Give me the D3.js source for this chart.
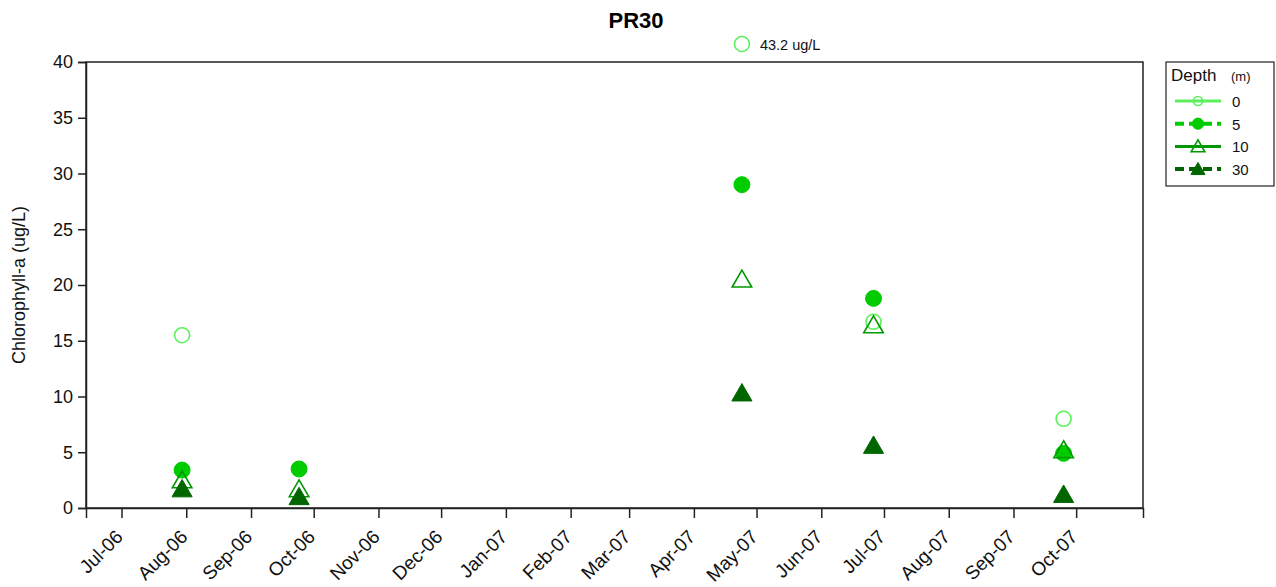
<!DOCTYPE html>
<html>
<head>
<meta charset="utf-8">
<script src="https://cdn.jsdelivr.net/npm/d3@7"></script>
<style>
  body { margin: 0; background: #fff; }
  svg { display: block; font-family: "Liberation Sans", Arial, sans-serif; }
</style>
</head>
<body>
<svg id="chart" width="1276" height="587"></svg>
<script>
// Sampling dates at station PR30
const sampleDates = ["2006-07-30", "2006-09-24", "2007-04-24", "2007-06-26", "2007-09-25"];

// Chlorophyll-a (ug/L) by sampling depth
const depth0  = [15.5, null, 43.2, 16.7, 8.0];
const depth5  = [3.4, 3.5, 29.0, 18.8, 4.9];
const depth10 = [2.5, 1.7, 20.5, 16.4, 5.2];
const depth30 = [1.7, 1.0, 10.3, 5.6, 1.2];

const depthLabels = ["0", "5", "10", "30"];
const yTicks = [0, 5, 10, 15, 20, 25, 30, 35, 40];
const monthTicks = ["2006-07-01","2006-08-01","2006-09-01","2006-10-01","2006-11-01","2006-12-01",
  "2007-01-01","2007-02-01","2007-03-01","2007-04-01","2007-05-01","2007-06-01",
  "2007-07-01","2007-08-01","2007-09-01","2007-10-01"];

const parse = d3.timeParse("%Y-%m-%d");
const fmt = d3.timeFormat("%b-%y");

const series = [
  { name: depthLabels[0], values: depth0,  color: "#5cf05c", shape: "circle",   filled: false, dash: null },
  { name: depthLabels[1], values: depth5,  color: "#00cc00", shape: "circle",   filled: true,  dash: "9,5" },
  { name: depthLabels[2], values: depth10, color: "#009900", shape: "triangle", filled: false, dash: null },
  { name: depthLabels[3], values: depth30, color: "#006600", shape: "triangle", filled: true,  dash: "9,5" }
];

const svg = d3.select("#chart");
const m = { left: 86, top: 62, right: 1143, bottom: 508 };

const x = d3.scaleTime()
  .domain([parse("2006-06-14"), parse("2007-11-02")])
  .range([m.left, m.right]);
const y = d3.scaleLinear().domain([0, 40]).range([m.bottom, m.top]);

// Title
svg.append("text").attr("x", 636).attr("y", 28).attr("text-anchor", "middle")
  .attr("font-size", 22).attr("font-weight", "bold").text("PR30");

// Plot frame
svg.append("rect").attr("x", m.left).attr("y", m.top)
  .attr("width", m.right - m.left).attr("height", m.bottom - m.top)
  .attr("fill", "none").attr("stroke", "#222").attr("stroke-width", 1.5);

// Y axis
const yAxis = svg.append("g").attr("transform", `translate(${m.left},0)`)
  .call(d3.axisLeft(y).tickValues(yTicks).tickSize(8).tickPadding(5));
yAxis.select(".domain").attr("stroke", "#222").attr("stroke-width", 1.5);
yAxis.selectAll(".tick line").attr("stroke", "#222").attr("stroke-width", 1.5);
yAxis.selectAll(".tick text").attr("font-size", 18).attr("fill", "#111")
  .attr("font-family", "Liberation Sans, Arial, sans-serif");

// X axis
const xAxis = svg.append("g").attr("transform", `translate(0,${m.bottom})`)
  .call(d3.axisBottom(x).tickValues(monthTicks.map(parse)).tickFormat(fmt).tickSize(10));
xAxis.select(".domain").attr("stroke", "#222").attr("stroke-width", 1.5);
xAxis.selectAll(".tick line").attr("stroke", "#222").attr("stroke-width", 1.5);
xAxis.selectAll(".tick text")
  .attr("font-size", 19).attr("fill", "#111")
  .attr("font-family", "Liberation Sans, Arial, sans-serif")
  .attr("text-anchor", "end")
  .attr("dy", null).attr("y", 0)
  .attr("transform", "translate(2,30) rotate(-45)");

// Y axis title
svg.append("text")
  .attr("transform", `translate(25,${(m.top + m.bottom) / 2}) rotate(-90)`)
  .attr("text-anchor", "middle").attr("font-size", 18).attr("fill", "#111")
  .text("Chlorophyll-a (ug/L)");

// Marker drawing helper
const tri = d3.symbol().type(d3.symbolTriangle);
function marker(g, s, cx, cy, scale) {
  const k = scale || 1;
  if (s.shape === "circle") {
    g.append("circle").attr("cx", cx).attr("cy", cy).attr("r", (s.filled ? 8 : 7.5) * k)
      .attr("fill", s.filled ? s.color : "none")
      .attr("stroke", s.color).attr("stroke-width", s.filled ? 1 : 1.6);
  } else {
    g.append("path").attr("d", tri.size((s.filled ? 175 : 165) * k * k)())
      .attr("transform", `translate(${cx},${cy + 2 * k})`)
      .attr("fill", s.filled ? s.color : "#fff")
      .attr("fill-opacity", s.filled ? 1 : 0)
      .attr("stroke", s.color).attr("stroke-width", s.filled ? 1 : 1.6);
  }
}

// Points; values above the axis maximum are shown above the frame with their value
const pts = svg.append("g");
series.forEach(s => {
  s.values.forEach((v, i) => {
    if (v == null) return;
    const cx = x(parse(sampleDates[i]));
    if (v > y.domain()[1]) {
      const cy = m.top - 18;
      marker(pts, s, cx, cy);
      svg.append("text").attr("x", cx + 18).attr("y", cy + 6)
        .attr("font-size", 14.5).attr("fill", "#111").text(`${v} ug/L`);
    } else {
      marker(pts, s, cx, y(v));
    }
  });
});

// Legend
const lg = svg.append("g");
lg.append("rect").attr("x", 1166).attr("y", 62).attr("width", 108).attr("height", 124)
  .attr("fill", "#fff").attr("stroke", "#222").attr("stroke-width", 1.2);
lg.append("text").attr("x", 1171).attr("y", 81).attr("font-size", 17).attr("fill", "#111").text("Depth");
lg.append("text").attr("x", 1231).attr("y", 81).attr("font-size", 13).attr("fill", "#111").text("(m)");
series.forEach((s, i) => {
  const ry = 101 + i * 22.7;
  lg.append("line").attr("x1", 1175).attr("x2", 1221).attr("y1", ry).attr("y2", ry)
    .attr("stroke", s.color).attr("stroke-width", s.dash ? 4 : 3)
    .attr("stroke-dasharray", s.dash);
  marker(lg, s, 1198, ry, s.shape === "circle" ? (s.filled ? 0.7 : 0.6) : 0.7);
  lg.append("text").attr("x", 1232).attr("y", ry + 6).attr("font-size", 15).attr("fill", "#111").text(s.name);
});
</script>
</body>
</html>
